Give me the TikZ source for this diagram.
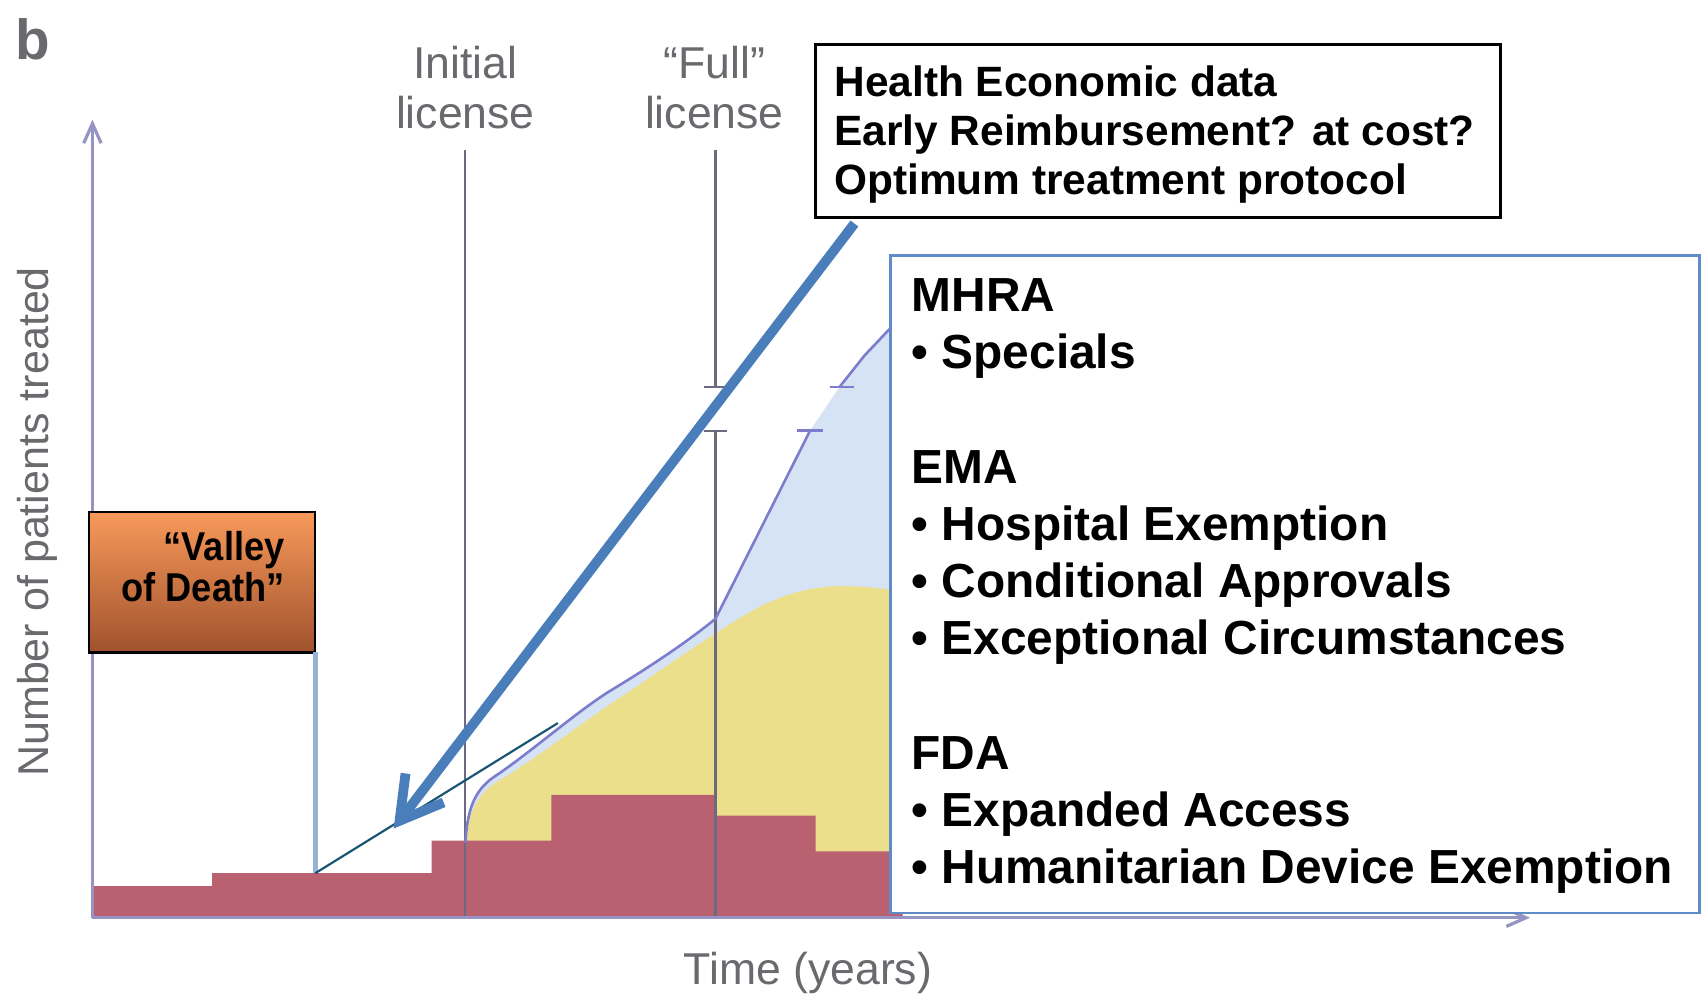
\documentclass[tikz,border=0pt]{standalone}
\usepackage{fontspec}
\setmainfont{Liberation Sans}
\newfontfamily\valleyfont[FakeStretch=0.9]{Liberation Sans}
\usetikzlibrary{arrows.meta,calc}
\definecolor{stepred}{RGB}{185,97,112}
\definecolor{yel}{RGB}{235,223,140}
\definecolor{lblue}{RGB}{214,227,245}
\definecolor{curveblue}{RGB}{125,125,205}
\definecolor{axiscol}{RGB}{150,148,195}
\definecolor{liccol}{RGB}{108,106,128}
\definecolor{arrowblue}{RGB}{74,126,187}
\definecolor{paleblue}{RGB}{149,179,215}
\definecolor{tealcol}{RGB}{25,85,115}
\definecolor{boxblue}{RGB}{95,140,200}
\definecolor{labelgray}{RGB}{105,105,110}
\definecolor{vtop}{RGB}{248,153,90}
\definecolor{vbot}{RGB}{160,82,45}
\begin{document}
\begin{tikzpicture}[x=0.5pt,y=-0.5pt,
  axisline/.style={draw=axiscol, line width=1.5pt, -{Straight Barb[length=9pt,width=8pt]}},
  licline/.style={draw=liccol, line width=1pt},
  curveline/.style={draw=curveblue, line width=1.2pt},
  lbl/.style={text=labelgray, font=\fontsize{20.5}{23}\selectfont, inner sep=0pt},
  valleybox/.style={draw=black, line width=1pt, top color=vtop, bottom color=vbot, inner sep=0pt, outer sep=0pt},
  topbox/.style={draw=black, line width=1.2pt, fill=white, inner sep=0pt, outer sep=0pt},
  regbox/.style={draw=boxblue, line width=1pt, fill=white, inner sep=0pt, outer sep=0pt},
  bigarrow/.style={draw=arrowblue, line width=4.5pt, shorten <=3.5pt, -{Straight Barb[length=19pt,width=22pt]}},
  paleline/.style={draw=paleblue, line width=2pt},
  tealline/.style={draw=tealcol, line width=1pt},
]
\useasboundingbox (0,0) rectangle (1568,914);
\fill[white] (0,0) rectangle (1568,914);
% fills
\fill[lblue] (428,843) -- (428,775) .. controls (430,742) and (437,725) .. (458,712) .. controls (490,690) and (530,655) .. (560,636) .. controls (600,612) and (635,588) .. (658,569) -- (745,396) -- (772,356) -- (795,327) -- (830,290) -- (830,843) -- cycle;
\fill[yel] (428,843) -- (428,775) .. controls (431,745) and (440,728) .. (462,716) .. controls (495,696) and (535,665) .. (565,645) .. controls (600,622) and (630,600) .. (659,582) .. controls (695,558) and (725,541) .. (770,539) .. controls (795,539) and (812,541) .. (830,544) -- (830,843) -- cycle;
\fill[stepred] (84,844) -- (84,815) -- (195,815) -- (195,803) -- (397,803) -- (397,773) -- (507,773) -- (507,731) -- (658,731) -- (658,750) -- (750,750) -- (750,783) -- (830,783) -- (830,844) -- cycle;
% license lines
\draw[licline] (428,138) -- (428,843);
\draw[licline] (658,138) -- (658,356);
\draw[licline] (647,356) -- (669,356);
\draw[licline] (658,396) -- (658,843);
\draw[licline] (647,396) -- (669,396);
% curve
\draw[curveline] (428,775) .. controls (430,742) and (437,725) .. (458,712) .. controls (490,690) and (530,655) .. (560,636) .. controls (600,612) and (635,588) .. (658,569) -- (745,396);
\draw[curveline] (733,396) -- (757,396);
\draw[curveline] (763,356) -- (785,356);
\draw[curveline] (772,356) -- (795,327) -- (830,290);
% axes
\coordinate (origin) at (85,844);
\coordinate (yend) at (85,110);
\coordinate (xend) at (1407,844);
\draw[axisline] (origin) -- (yend);
\draw[axisline] (origin) -- (xend);
% labels
\node[text=labelgray, font=\bfseries\fontsize{26}{26}\selectfont, anchor=base west, inner sep=0pt] (blabel) at (14,55) {b};
\node[lbl, anchor=north, align=center] (initlbl) at (428,42) {Initial\\license};
\node[lbl, anchor=north, align=center] (fulllbl) at (657,42) {“Full”\\license};
\node[lbl, anchor=base] (timelbl) at (743,905) {Time (years)};
\node[lbl, font=\fontsize{19.8}{23}\selectfont, rotate=90, anchor=base] (ylbl) at (45,480) {Number of patients treated};
% valley box
\node[valleybox, anchor=north west, minimum width=104pt, minimum height=64.5pt] (valley) at (82,471) {};
\node[font=\valleyfont\bfseries\fontsize{18.5}{19}\selectfont, align=right, anchor=north east, inner sep=0pt] (vtext) at (262,488) {“Valley\\of Death”};
\coordinate (vd) at (290,803);
\coordinate (cv) at (513,665);
\draw[paleline] (valley.south east) -- (vd);
\draw[tealline] (vd) -- (cv);
% top box
\node[topbox, anchor=north west, minimum width=315pt, minimum height=79.5pt] (hbox) at (750,41) {};
\coordinate (tipA) at (362,762);
\draw[bigarrow] ($(hbox.south west)!0.0635!(hbox.south east)$) -- (tipA);
\node[anchor=north west, inner sep=0pt, align=left, font=\bfseries\fontsize{19.5}{22.5}\selectfont] (htext) at (767,60) {Health Economic data\\Early Reimbursement? at cost?\\Optimum treatment protocol};
% regulatory box
\node[regbox, anchor=north west, minimum width=372pt, minimum height=302.5pt] (rbox) at (819,235) {};
\node[anchor=north west, inner sep=0pt, align=left, font=\bfseries\fontsize{22}{26.3}\selectfont] (rtext) at (838,256) {MHRA\\
• Specials\\[26.3pt]
EMA\\
• Hospital Exemption\\
• Conditional Approvals\\
• Exceptional Circumstances\\[26.3pt]
FDA\\
• Expanded Access\\
• Humanitarian Device Exemption};
\end{tikzpicture}
\end{document}
